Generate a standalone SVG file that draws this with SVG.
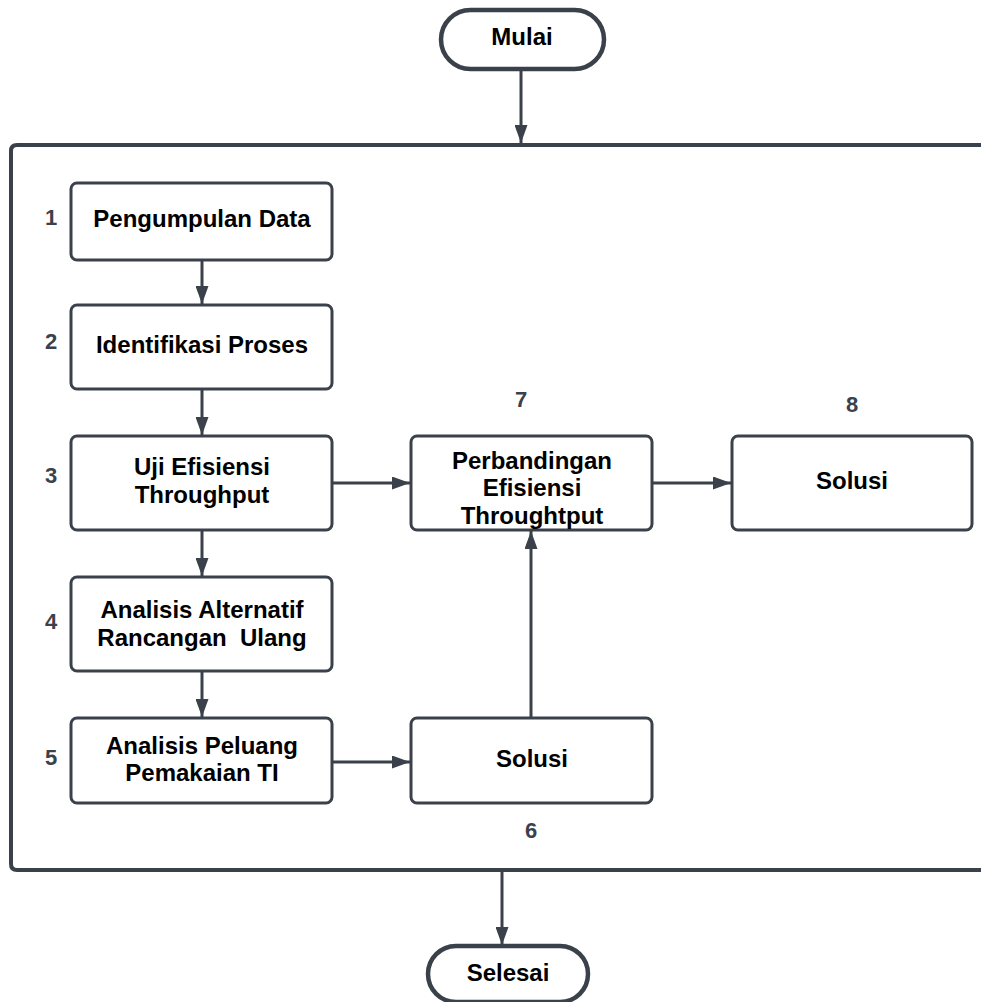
<svg xmlns="http://www.w3.org/2000/svg" width="981" height="1002" viewBox="0 0 981 1002">
  <style>
    .box { fill: #ffffff; stroke: #3a414a; stroke-width: 3; }
    .term { fill: #ffffff; stroke: #3a414a; stroke-width: 4.5; }
    .frame { fill: none; stroke: #3a414a; stroke-width: 4; }
    .edge { fill: none; stroke: #3a414a; stroke-width: 3; }
    .lbl { font-family: "Liberation Sans", Arial, sans-serif; font-weight: bold; font-size: 24px; fill: #000000; text-anchor: middle; }
    .num { font-family: "Liberation Sans", Arial, sans-serif; font-weight: bold; font-size: 22px; fill: #3a414a; text-anchor: middle; }
  </style>
  <defs>
    <marker id="arrow" viewBox="0 0 18 13" refX="18" refY="6.5" markerWidth="18" markerHeight="13" markerUnits="userSpaceOnUse" orient="auto">
      <path d="M0,0 L18,6.5 L0,13 Z" fill="#3a414a"/>
    </marker>
  </defs>

  <rect width="981" height="1002" fill="#ffffff"/>

  <!-- container frame, open on the right -->
  <path class="frame" d="M981,145 H17 Q11,145 11,151 V864 Q11,870 17,870 H981"/>

  <g id="connectors">
    <path class="edge" d="M521,69 V143" marker-end="url(#arrow)"/>
    <path class="edge" d="M202,260 V304" marker-end="url(#arrow)"/>
    <path class="edge" d="M202,389 V435" marker-end="url(#arrow)"/>
    <path class="edge" d="M202,530 V576" marker-end="url(#arrow)"/>
    <path class="edge" d="M202,671 V717" marker-end="url(#arrow)"/>
    <path class="edge" d="M332,483 H410" marker-end="url(#arrow)"/>
    <path class="edge" d="M652,483 H731" marker-end="url(#arrow)"/>
    <path class="edge" d="M332,762 H410" marker-end="url(#arrow)"/>
    <path class="edge" d="M531,718 V531" marker-end="url(#arrow)"/>
    <path class="edge" d="M502,870 V945" marker-end="url(#arrow)"/>
  </g>

  <g id="mulai">
    <rect class="term" x="441" y="10" width="163" height="59" rx="29.5"/>
    <text class="lbl" x="522" y="45">Mulai</text>
  </g>

  <g id="step1">
    <rect class="box" x="71" y="183" width="261" height="77" rx="6"/>
    <text class="lbl" x="202" y="227">Pengumpulan Data</text>
    <text class="num" x="51" y="225">1</text>
  </g>

  <g id="step2">
    <rect class="box" x="71" y="305" width="261" height="84" rx="6"/>
    <text class="lbl" x="202" y="353">Identifikasi Proses</text>
    <text class="num" x="51" y="349">2</text>
  </g>

  <g id="step3">
    <rect class="box" x="71" y="436" width="261" height="94" rx="6"/>
    <text class="lbl" x="202" y="475">Uji Efisiensi</text>
    <text class="lbl" x="202" y="503">Throughput</text>
    <text class="num" x="51" y="483">3</text>
  </g>

  <g id="step4">
    <rect class="box" x="71" y="577" width="261" height="94" rx="6"/>
    <text class="lbl" x="202" y="618">Analisis Alternatif</text>
    <text class="lbl" x="202" y="646" xml:space="preserve">Rancangan  Ulang</text>
    <text class="num" x="51" y="629">4</text>
  </g>

  <g id="step5">
    <rect class="box" x="71" y="718" width="261" height="85" rx="6"/>
    <text class="lbl" x="202" y="754">Analisis Peluang</text>
    <text class="lbl" x="202" y="781">Pemakaian TI</text>
    <text class="num" x="51" y="765">5</text>
  </g>

  <g id="step6">
    <rect class="box" x="411" y="718" width="241" height="85" rx="6"/>
    <text class="lbl" x="532" y="767">Solusi</text>
    <text class="num" x="531" y="838">6</text>
  </g>

  <g id="step7">
    <rect class="box" x="411" y="436" width="241" height="94" rx="6"/>
    <text class="lbl" x="532" y="469">Perbandingan</text>
    <text class="lbl" x="532" y="496">Efisiensi</text>
    <text class="lbl" x="532" y="524">Throughtput</text>
    <text class="num" x="521" y="407">7</text>
  </g>

  <g id="step8">
    <rect class="box" x="732" y="436" width="240" height="94" rx="6"/>
    <text class="lbl" x="852" y="489">Solusi</text>
    <text class="num" x="852" y="412">8</text>
  </g>

  <g id="selesai">
    <rect class="term" x="428" y="946" width="160" height="56" rx="28"/>
    <text class="lbl" x="508" y="981">Selesai</text>
  </g>
</svg>
